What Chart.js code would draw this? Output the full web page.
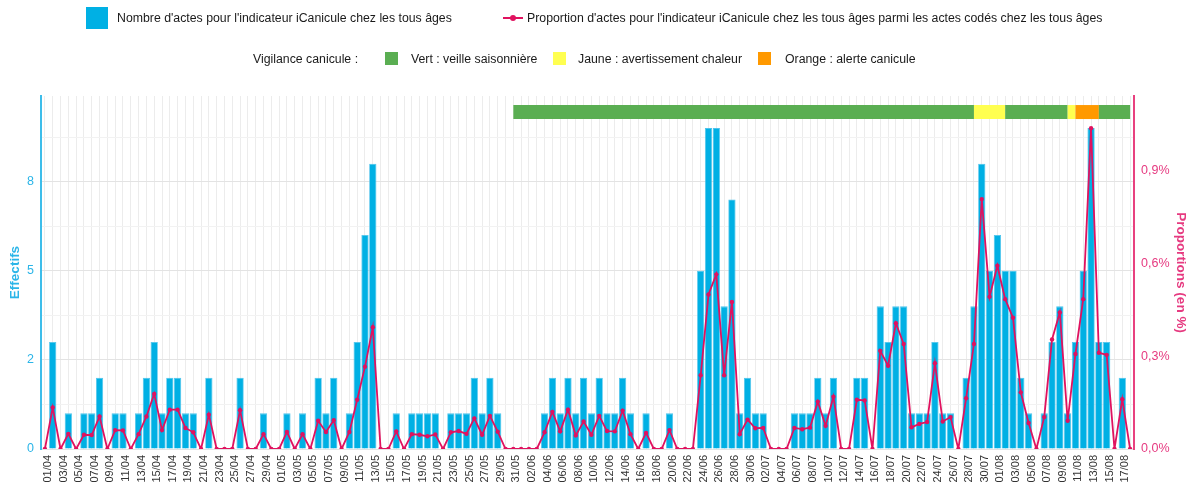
<!DOCTYPE html>
<html>
<head>
<meta charset="utf-8">
<script src="https://cdn.jsdelivr.net/npm/chart.js@4.4.1/dist/chart.umd.min.js"></script>
<style>
  body { margin: 0; background: #fff; }
  #wrap { position: relative; width: 1189px; height: 488px; font-family: "Liberation Sans", Arial, sans-serif; }
  #chart { position: absolute; left: 0; top: 0; }
  .lg { position: absolute; font-size: 12.3px; line-height: 16px; color: #1a1a1a; white-space: nowrap; }
  .key { position: absolute; }
</style>
</head>
<body>
<div id="wrap">
  <canvas id="chart" width="1189" height="488"></canvas>

  <div class="key" style="left:86px;top:7px;width:22px;height:22px;background:#00b0e4"></div>
  <div class="lg" style="left:117px;top:10px">Nombre d'actes pour l'indicateur iCanicule chez les tous âges</div>
  <div class="key" style="left:503px;top:17px;width:20px;height:2px;background:#e0125f"></div>
  <div class="key" style="left:510px;top:15px;width:6px;height:6px;border-radius:50%;background:#e0125f"></div>
  <div class="lg" style="left:527px;top:10px">Proportion d'actes pour l'indicateur iCanicule chez les tous âges parmi les actes codés chez les tous âges</div>

  <div class="lg" style="left:253px;top:51px">Vigilance canicule :</div>
  <div class="key" style="left:385px;top:52px;width:13px;height:13px;background:#5aae52"></div>
  <div class="lg" style="left:411px;top:51px">Vert : veille saisonnière</div>
  <div class="key" style="left:553px;top:52px;width:13px;height:13px;background:#ffff50"></div>
  <div class="lg" style="left:578px;top:51px">Jaune : avertissement chaleur</div>
  <div class="key" style="left:758px;top:52px;width:13px;height:13px;background:#ff9900"></div>
  <div class="lg" style="left:785px;top:51px">Orange : alerte canicule</div>
</div>

<script>
// daily values, 01/04 -> 18/08
const counts = [
  0, 3, 0, 1, 0, 1, 1, 2, 0, 1,
  1, 0, 1, 2, 3, 1, 2, 2, 1, 1,
  0, 2, 0, 0, 0, 2, 0, 0, 1, 0,
  0, 1, 0, 1, 0, 2, 1, 2, 0, 1,
  3, 6, 8, 0, 0, 1, 0, 1, 1, 1,
  1, 0, 1, 1, 1, 2, 1, 2, 1, 0,
  0, 0, 0, 0, 1, 2, 1, 2, 1, 2,
  1, 2, 1, 1, 2, 1, 0, 1, 0, 0,
  1, 0, 0, 0, 5, 9, 9, 4, 7, 1,
  2, 1, 1, 0, 0, 0, 1, 1, 1, 2,
  1, 2, 0, 0, 2, 2, 0, 4, 3, 4,
  4, 1, 1, 1, 3, 1, 1, 0, 2, 4,
  8, 5, 6, 5, 5, 2, 1, 0, 1, 3,
  4, 1, 3, 5, 9, 3, 3, 0, 2, 0
];

// % of coded acts
const proportions = [
  0, 0.134, 0, 0.049, 0, 0.046, 0.045, 0.105, 0, 0.061,
  0.060, 0, 0.048, 0.105, 0.178, 0.061, 0.127, 0.127, 0.068, 0.054,
  0, 0.111, 0, 0, 0, 0.125, 0, 0, 0.048, 0,
  0, 0.055, 0, 0.048, 0, 0.091, 0.055, 0.093, 0, 0.055,
  0.159, 0.266, 0.393, 0, 0, 0.057, 0, 0.048, 0.046, 0.041,
  0.047, 0, 0.054, 0.058, 0.049, 0.099, 0.046, 0.107, 0.056, 0,
  0, 0, 0, 0, 0.054, 0.120, 0.057, 0.127, 0.044, 0.089,
  0.046, 0.107, 0.058, 0.057, 0.124, 0.048, 0, 0.052, 0, 0,
  0.061, 0, 0, 0, 0.238, 0.499, 0.564, 0.238, 0.475, 0.048,
  0.095, 0.067, 0.068, 0, 0, 0, 0.068, 0.064, 0.069, 0.153,
  0.075, 0.169, 0, 0, 0.159, 0.157, 0, 0.317, 0.269, 0.406,
  0.339, 0.070, 0.081, 0.087, 0.277, 0.089, 0.103, 0, 0.164, 0.339,
  0.807, 0.492, 0.592, 0.484, 0.424, 0.183, 0.084, 0, 0.103, 0.354,
  0.441, 0.091, 0.307, 0.484, 1.036, 0.311, 0.304, 0, 0.161, 0
];

const months = ['04', '05', '06', '07', '08'];
const monthDays = [30, 31, 30, 31, 18];

// heat-wave alert periods
const vigStart = ['31/05', '29/07', '02/08', '10/08', '11/08', '14/08'];
const vigEnd   = ['29/07', '02/08', '10/08', '11/08', '14/08', '18/08'];
const vigLevel = ['vert', 'jaune', 'vert', 'jaune', 'orange', 'vert'];

const countTicks = [0, 2.5, 5, 7.5];
const countTickLabels = ['0', '2', '5', '8'];
const countGrid = [0, 1.25, 2.5, 3.75, 5, 6.25, 7.5, 8.75];
const propTicks = [0, 0.3, 0.6, 0.9];
const propTickLabels = ['0,0%', '0,3%', '0,6%', '0,9%'];

const CYAN = '#00b0e4';
const CYAN_TXT = '#2bb5e8';
const PINK = '#e0125f';
const PINK_TXT = '#e63a80';
const vigColors = { vert: '#5aae52', jaune: '#ffff50', orange: '#ff9900' };

let days = [];
months.forEach((m, k) => {
  for (let d = 1; d <= monthDays[k]; d++) days.push(String(d).padStart(2, '0') + '/' + m);
});

const firstVig = days.indexOf(vigStart[0]);
const lastVig = days.indexOf(vigEnd[vigEnd.length - 1]);
const BAND_Y = 9.45;
const band = days.map((d, i) => (i >= firstVig && i <= lastVig) ? BAND_Y : null);

function levelAt(i) {
  for (let k = 0; k < vigStart.length; k++) {
    if (i >= days.indexOf(vigStart[k]) && i < days.indexOf(vigEnd[k])) return vigLevel[k];
  }
  return vigLevel[vigLevel.length - 1];
}

Chart.defaults.font.family = '"Liberation Sans", Arial, sans-serif';

new Chart(document.getElementById('chart'), {
  data: {
    labels: days,
    datasets: [
      {
        type: 'line',
        label: 'Proportion',
        data: proportions,
        yAxisID: 'y1',
        borderColor: PINK,
        backgroundColor: PINK,
        borderWidth: 1.8,
        pointRadius: 2.2,
        pointBorderWidth: 0,
        pointBackgroundColor: PINK,
        tension: 0,
        order: 1
      },
      {
        type: 'line',
        label: 'Vigilance',
        data: band,
        yAxisID: 'y',
        borderWidth: 14,
        borderCapStyle: 'butt',
        pointRadius: 0,
        spanGaps: false,
        segment: { borderColor: ctx => vigColors[levelAt(ctx.p0DataIndex)] },
        order: 2
      },
      {
        type: 'bar',
        label: 'Nombre',
        data: counts,
        yAxisID: 'y',
        backgroundColor: CYAN,
        borderColor: '#4cc3ec',
        borderWidth: 0.8,
        barPercentage: 0.93,
        categoryPercentage: 1,
        order: 3
      }
    ]
  },
  options: {
    responsive: false,
    animation: false,
    devicePixelRatio: 1,
    layout: { padding: { top: 96, left: 0, right: 0, bottom: 0 }, autoPadding: false },
    plugins: { legend: { display: false }, tooltip: { enabled: false } },
    scales: {
      x: {
        offset: true,
        grid: { offset: false, color: '#ececec', drawTicks: false },
        border: { display: false },
        ticks: {
          autoSkip: false, minRotation: 90, maxRotation: 90, padding: 6,
          labelOffset: 3,
          color: '#333', font: { size: 11 },
          callback: (v, i) => i % 2 === 0 ? days[i] : ''
        },
        afterFit: s => { s.height = 39; }
      },
      y: {
        position: 'left',
        min: 0, max: 9.9,
        afterBuildTicks: s => { s.ticks = countGrid.map(v => ({ value: v })); },
        ticks: {
          color: CYAN_TXT, font: { size: 12.5 }, padding: 7,
          callback: v => { const k = countTicks.indexOf(v); return k >= 0 ? countTickLabels[k] : ''; }
        },
        grid: {
          drawTicks: false,
          color: ctx => countTicks.includes(ctx.tick.value) ? '#e3e3e3' : '#f2f2f2'
        },
        border: { display: true, color: '#3dbdea', width: 2 },
        title: {
          display: true, text: 'Effectifs', color: CYAN_TXT,
          font: { size: 13.5, weight: 'bold' }, padding: { top: 7, bottom: 0 }
        },
        afterFit: s => { s.width = 41; }
      },
      y1: {
        position: 'right',
        min: 0, max: 1.14,
        afterBuildTicks: s => { s.ticks = propTicks.map(v => ({ value: v })); },
        ticks: {
          color: PINK_TXT, font: { size: 12.5 }, padding: 7,
          callback: v => propTickLabels[propTicks.indexOf(v)]
        },
        grid: { display: false, drawTicks: false },
        border: { display: true, color: '#e8417f', width: 2 },
        title: {
          display: true, text: 'Proportions (en %)', color: PINK_TXT,
          font: { size: 13.5, weight: 'bold' }, padding: { top: 0, bottom: 0 }
        },
        afterFit: s => { s.width = 55; }
      }
    }
  }
});
</script>
</body>
</html>
